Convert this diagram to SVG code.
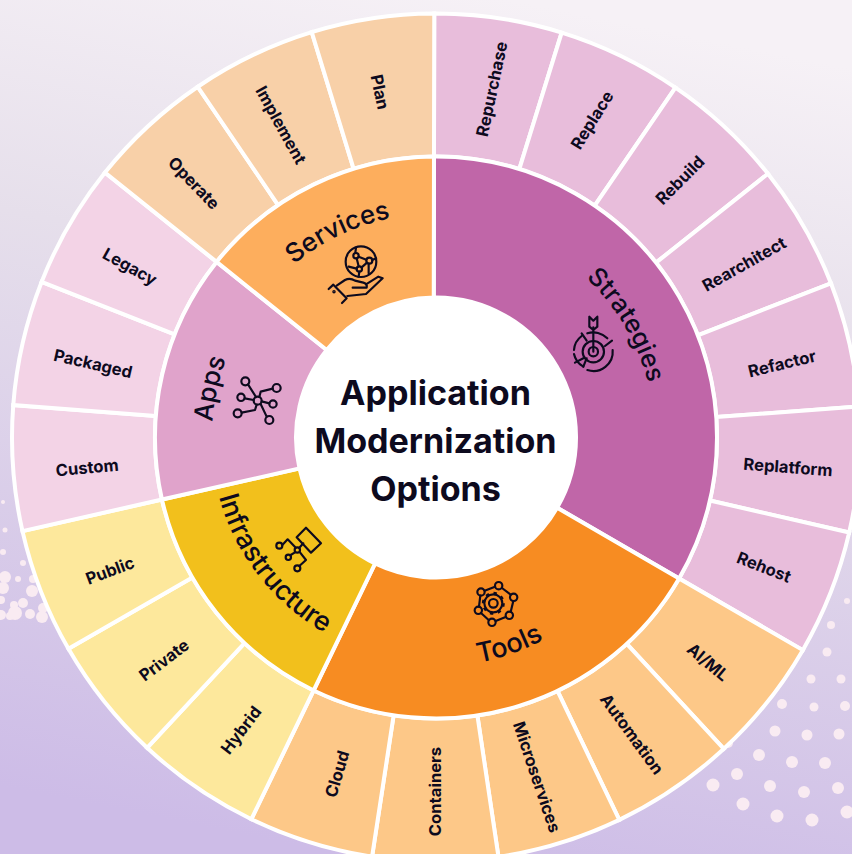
<svg xmlns="http://www.w3.org/2000/svg" width="852" height="854" viewBox="0 0 852 854">
<style>
.cell,.wedge{stroke:#fff;stroke-width:4;stroke-linejoin:miter}
.s{fill:#e8bddb}.t{fill:#fdc888}.i{fill:#fde89c}.a{fill:#f3d3e6}.v{fill:#f8d0a8}
text{font-family:"Inter","Liberation Sans",sans-serif;fill:#0d0a1e}
.lb{font-size:16.6px;font-weight:700;text-anchor:middle;dominant-baseline:central}
.wl{font-size:26px;font-weight:500;text-anchor:middle}
.tt{font-size:34.1px;font-weight:700;text-anchor:middle}
.ic{fill:none;stroke:#0d0a1e;stroke-width:6.5;stroke-linecap:round;stroke-linejoin:round}
.d{fill:#f9ebf2}
</style>
<defs>
<linearGradient id="bg" x1="0.6" y1="0" x2="0.4" y2="1">
<stop offset="0" stop-color="#f6f1f6"/><stop offset="0.35" stop-color="#e6dfeb"/><stop offset="1" stop-color="#cdbce7"/>
</linearGradient>
<path id="cell" d="M0,-281L0,-424A424,424 0 0 1 124.98,-405.16L82.83,-268.52A281,281 0 0 0 0,-281Z"/>
<path id="cw219" d="M0,-219A219,219 0 1 1 0,219A219,219 0 1 1 0,-219Z"/>
<path id="cw224" d="M0,-224A224,224 0 1 1 0,224A224,224 0 1 1 0,-224Z"/>
<path id="ccw" d="M0,-225A225,225 0 1 0 0,225A225,225 0 1 0 0,-225Z"/>
<path id="ccw229" d="M0,-229A229,229 0 1 0 0,229A229,229 0 1 0 0,-229Z"/>
</defs>
<rect width="852" height="854" fill="url(#bg)"/>
<g id="dots" class="d">
<circle cx="831" cy="625" r="4"/><circle cx="827" cy="652" r="4.5"/><circle cx="811" cy="679" r="4.5"/><circle cx="841" cy="679" r="4.5"/><circle cx="782" cy="704" r="5"/><circle cx="814" cy="707" r="4.5"/><circle cx="845" cy="706" r="5"/><circle cx="775" cy="731" r="5.5"/><circle cx="807" cy="735" r="5.5"/><circle cx="839" cy="734" r="5.5"/><circle cx="759" cy="755" r="6"/><circle cx="792" cy="762" r="6"/><circle cx="825" cy="763" r="6"/><circle cx="737" cy="774" r="6"/><circle cx="770" cy="786" r="6"/><circle cx="804" cy="792" r="6"/><circle cx="838" cy="788" r="6"/><circle cx="713" cy="785" r="6.5"/><circle cx="743" cy="804" r="6.5"/><circle cx="777" cy="816" r="6.5"/><circle cx="812" cy="820" r="6.5"/><circle cx="847" cy="812" r="6.5"/><circle cx="728" cy="743" r="5"/><circle cx="847" cy="601" r="3"/>
<circle cx="3" cy="502" r="2"/><circle cx="5" cy="530" r="2.5"/><circle cx="3" cy="552" r="3"/><circle cx="23" cy="563" r="3"/><circle cx="5" cy="577" r="6"/><circle cx="18" cy="579" r="3"/><circle cx="33" cy="579" r="4"/><circle cx="3" cy="588" r="6"/><circle cx="32" cy="591" r="6"/><circle cx="1" cy="600" r="4"/><circle cx="23" cy="603" r="5"/><circle cx="14" cy="605" r="4"/><circle cx="15" cy="613" r="7"/><circle cx="30" cy="614" r="5"/><circle cx="1" cy="615" r="5"/><circle cx="43" cy="608" r="5"/><circle cx="42" cy="617" r="6"/><circle cx="10" cy="616" r="4"/>
</g>
<circle cx="436" cy="437.5" r="425" fill="#fff"/>
<g id="outer">
<g id="cell-repurchase"><path d="M-2.5,-281L-2.5,-424A424,424 0 0 1 124.98,-405.16L82.83,-268.52A281,281 0 0 0 -2.5,-281Z" class="cell s" transform="translate(436 437.5) rotate(.1)"/><text class="lb" transform="translate(491.7 89) rotate(-78)">Repurchase</text></g>
<g id="cell-replace"><use href="#cell" class="cell s" transform="translate(436 437.5) rotate(17.243)"/><text class="lb" transform="translate(592 120) rotate(-58)">Replace</text></g>
<g id="cell-rebuild"><use href="#cell" class="cell s" transform="translate(436 437.5) rotate(34.386)"/><text class="lb" transform="translate(680 180) rotate(-45)">Rebuild</text></g>
<g id="cell-rearchitect"><use href="#cell" class="cell s" transform="translate(436 437.5) rotate(51.529)"/><text class="lb" transform="translate(744 264) rotate(-29.3)">Rearchitect</text></g>
<g id="cell-refactor"><use href="#cell" class="cell s" transform="translate(436 437.5) rotate(68.671)"/><text class="lb" transform="translate(782 363.5) rotate(-13.6)">Refactor</text></g>
<g id="cell-replatform"><use href="#cell" class="cell s" transform="translate(436 437.5) rotate(85.814)"/><text class="lb" transform="translate(788 467) rotate(4.2)">Replatform</text></g>
<g id="cell-rehost"><use href="#cell" class="cell s" transform="translate(436 437.5) rotate(102.957)"/><text class="lb" transform="translate(764 567) rotate(21.5)">Rehost</text></g>
<g id="cell-aiml"><use href="#cell" class="cell t" transform="translate(436 437.5) rotate(120.1)"/><text class="lb" transform="translate(708 662) rotate(40)">AI/ML</text></g>
<g id="cell-automation"><use href="#cell" class="cell t" transform="translate(436 437.5) rotate(137.243)"/><text class="lb" transform="translate(632 734) rotate(54)">Automation</text></g>
<g id="cell-microservices"><use href="#cell" class="cell t" transform="translate(436 437.5) rotate(154.386)"/><text class="lb" transform="translate(537 777) rotate(71.3)">Microservices</text></g>
<g id="cell-containers"><use href="#cell" class="cell t" transform="translate(436 437.5) rotate(171.529)"/><text class="lb" transform="translate(435 791.5) rotate(-90)">Containers</text></g>
<g id="cell-cloud"><use href="#cell" class="cell t" transform="translate(436 437.5) rotate(188.671)"/><text class="lb" transform="translate(337 774) rotate(-73.5)">Cloud</text></g>
<g id="cell-hybrid"><use href="#cell" class="cell i" transform="translate(436 437.5) rotate(205.814)"/><text class="lb" transform="translate(241 730) rotate(-53)">Hybrid</text></g>
<g id="cell-private"><use href="#cell" class="cell i" transform="translate(436 437.5) rotate(222.957)"/><text class="lb" transform="translate(164 660) rotate(-37)">Private</text></g>
<g id="cell-public"><use href="#cell" class="cell i" transform="translate(436 437.5) rotate(240.1)"/><text class="lb" transform="translate(110 570.5) rotate(-20.5)">Public</text></g>
<g id="cell-custom"><use href="#cell" class="cell a" transform="translate(436 437.5) rotate(257.243)"/><text class="lb" transform="translate(87 467.5) rotate(-5.5)">Custom</text></g>
<g id="cell-packaged"><use href="#cell" class="cell a" transform="translate(436 437.5) rotate(274.386)"/><text class="lb" transform="translate(93 363.5) rotate(12.9)">Packaged</text></g>
<g id="cell-legacy"><use href="#cell" class="cell a" transform="translate(436 437.5) rotate(291.529)"/><text class="lb" transform="translate(130 266.5) rotate(29)">Legacy</text></g>
<g id="cell-operate"><use href="#cell" class="cell v" transform="translate(436 437.5) rotate(308.671)"/><text class="lb" transform="translate(194 183) rotate(46)">Operate</text></g>
<g id="cell-implement"><use href="#cell" class="cell v" transform="translate(436 437.5) rotate(325.814)"/><text class="lb" transform="translate(281 125) rotate(61)">Implement</text></g>
<g id="cell-plan"><path d="M0,-281L0,-424A424,424 0 0 1 122.6,-405.9L80.4,-269.2A281,281 0 0 0 0,-281Z" class="cell v" transform="translate(436 437.5) rotate(342.957)"/><text class="lb" transform="translate(380 92) rotate(78)">Plan</text></g>
</g>
<g id="strategies">
<path class="wedge" fill="#c066a8" transform="translate(436 437.5) rotate(.1)" d="M-2.5,-281A281,281 0 0 1 243.35,140.5L121.24,70A140,140 0 0 0 -2.5,-140Z"/>
<text class="wl" style="font-size:25.5px" transform="translate(436 437.5)"><textPath href="#cw219" startOffset="16.5%">Strategies</textPath></text>
<g class="ic" transform="translate(550 250) scale(.3333)">
<path d="M72,300A58,58 0 0 1 95,258M112,250A58,58 0 0 1 172,265M188,300A58,58 0 0 1 112,360M100,350A58,58 0 0 1 72,312"/>
<circle cx="130" cy="305" r="32"/><circle cx="130" cy="305" r="14"/>
<path d="M130,305L130,232M118,200L118,230L130,240L142,230L142,200L130,212Z"/>
<path d="M95,250L110,272M186,272L165,288M75,338L100,325M100,350L110,325"/>
</g>
</g>
<g id="tools">
<path class="wedge" fill="#f78c22" transform="translate(436 437.5) rotate(.1)" d="M243.35,140.5A281,281 0 0 1 -121.92,253.17L-60.74,126.14A140,140 0 0 0 121.24,70Z"/>
<text class="wl" style="font-size:27px" transform="translate(436 437.5)"><textPath href="#ccw229" startOffset="55.4%">Tools</textPath></text>
<g class="ic" transform="translate(450 570) scale(.3333)">
<circle cx="146" cy="47" r="11"/><circle cx="191" cy="82" r="11"/><circle cx="178" cy="136" r="11"/><circle cx="126" cy="157" r="11"/><circle cx="85" cy="121" r="11"/><circle cx="93" cy="66" r="11"/>
<path d="M135,50L104,62M156,54L182,74M190,93L182,126M167,141L137,153M116,150L93,129M87,110L91,77"/>
<circle cx="130" cy="100" r="27"/><circle cx="130" cy="100" r="13"/>
<circle cx="130" cy="100" r="31" stroke-dasharray="10 14.3" stroke-linecap="butt" stroke-width="7"/>
</g>
</g>
<g id="infrastructure">
<path class="wedge" fill="#f2c01c" transform="translate(436 437.5) rotate(.1)" d="M-121.92,253.17A281,281 0 0 1 -273.95,62.53L-136.49,31.15A140,140 0 0 0 -60.74,126.14Z"/>
<text class="wl" style="font-size:27px" transform="translate(436 437.5)"><textPath href="#ccw" startOffset="35.5%">Infrastructure</textPath></text>
<g class="ic" transform="translate(210 490) scale(.3333)">
<path d="M288,113L333,160L303,188L260,142Z"/>
<circle cx="262" cy="180" r="8"/><circle cx="208" cy="167" r="9"/><circle cx="235" cy="202" r="8"/><circle cx="262" cy="235" r="9"/>
<path d="M217,165L233,148L256,172M242,195L255,187M270,187L288,210L268,228M268,173L280,160"/>
</g>
</g>
<g id="apps">
<path class="wedge" fill="#e0a3cb" transform="translate(436 437.5) rotate(.1)" d="M-273.95,62.53A281,281 0 0 1 -219.69,-175.2L-109.46,-87.29A140,140 0 0 0 -136.49,31.15Z"/>
<text class="wl" transform="translate(436 437.5)"><textPath href="#cw224" startOffset="78.4%">Apps</textPath></text>
<g class="ic" transform="translate(190 350) scale(.3333)">
<circle cx="203" cy="152" r="12"/><circle cx="166" cy="94" r="12"/><circle cx="260" cy="114" r="12"/><circle cx="153" cy="142" r="11"/><circle cx="249" cy="162" r="11"/><circle cx="143" cy="190" r="12"/><circle cx="238" cy="210" r="12"/>
<path d="M174,103L198,141M208,141L212,125L248,116M164,145L191,150M215,154L238,160M155,188L195,180L200,164M212,162L230,200"/>
</g>
</g>
<g id="services">
<path class="wedge" fill="#fdae5d" transform="translate(436 437.5) rotate(.1)" d="M-219.69,-175.2A281,281 0 0 1 -2.5,-281L-2.5,-140A140,140 0 0 0 -109.46,-87.29Z"/>
<text class="wl" transform="translate(436 437.5)"><textPath href="#cw224" startOffset="92.9%">Services</textPath></text>
<g class="ic" transform="translate(270 190) scale(.3333)">
<circle cx="273" cy="215" r="46"/><circle cx="258" cy="197" r="8"/><circle cx="298" cy="212" r="9"/><circle cx="268" cy="237" r="8"/>
<path d="M266,200L289,209M291,218L275,232M260,205L266,229M256,189L258,173M307,210L318,205M296,221L296,250M260,236L236,230M268,245L266,260"/>
<path d="M200,287L225,270Q240,262 255,272L280,278Q293,282 290,293L248,293M288,283L325,260L338,265L288,312L232,318"/>
<path d="M176,297L190,284L230,325L216,339"/>
<circle cx="192" cy="305" r="2"/>
</g>
</g>
<g id="center">
<circle cx="436" cy="437.5" r="140" fill="#fff"/>
<text class="tt" x="435.5" y="405">Application</text>
<text class="tt" x="435.5" y="453">Modernization</text>
<text class="tt" x="435.5" y="501">Options</text>
</g>
</svg>
